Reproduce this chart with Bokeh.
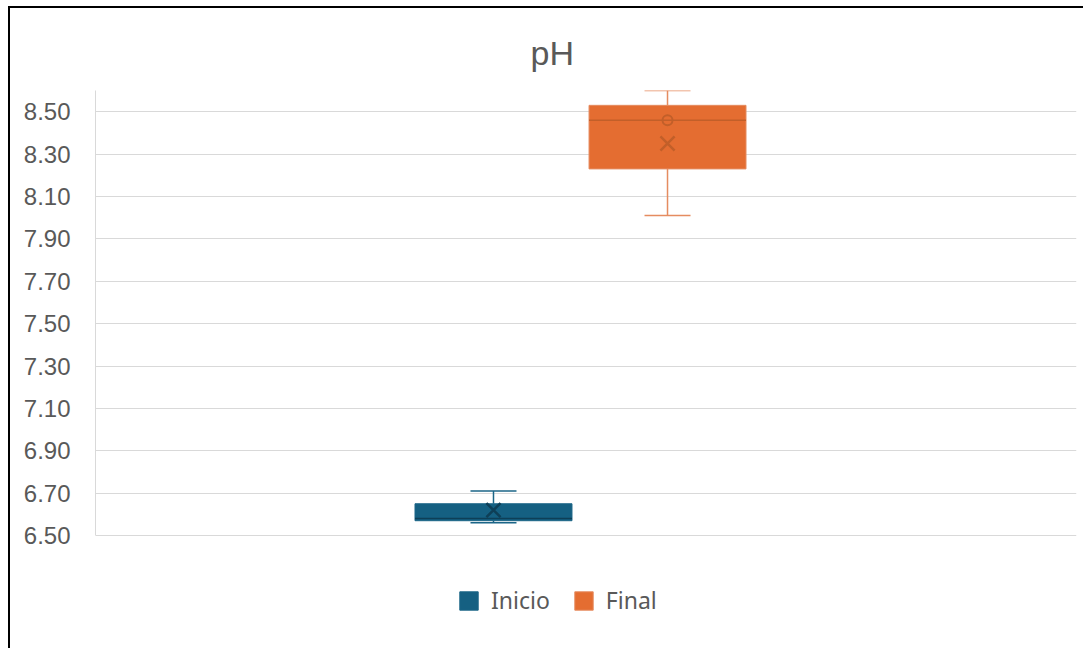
from bokeh.plotting import figure
from bokeh.models import (Range1d, FixedTicker, NumeralTickFormatter, Legend,
                          LegendItem, Title, ColumnDataSource)
from bokeh.embed import file_html
from bokeh.resources import INLINE

# pH summary per sampling stage
series = ["Inicio", "Final"]
whisker_low = [6.56, 8.01]
q1 = [6.57, 8.23]
median = [6.58, 8.46]
q3 = [6.65, 8.53]
whisker_high = [6.71, 8.60]
mean = [6.62, 8.35]
point_series = ["Final"]
point_values = [8.46]
y_ticks = [6.50, 6.70, 6.90, 7.10, 7.30, 7.50, 7.70, 7.90, 8.10, 8.30, 8.50]

fills = ["#156082", "#E46D31"]
edges = ["#1B6587", "#E58C60"]
dark = ["#0E3F57", "#C25F29"]

center = 1.0
offset = 0.0887
box_w = 0.16
xs = [center - offset, center + offset]

src = ColumnDataSource(dict(
    x=xs, q1=q1, q3=q3, med=median, lo=whisker_low, hi=whisker_high,
    mean=mean, fill=fills, edge=edges, dark=dark,
    x0=[x - box_w / 2 for x in xs], x1=[x + box_w / 2 for x in xs],
))

p = figure(width=1075, height=642, output_backend="svg", toolbar_location=None,
           x_range=Range1d(0.5056, 1.5056), y_range=Range1d(6.0, 8.6),
           min_border_left=85, min_border_right=9, min_border_top=82,
           min_border_bottom=9)
p.styles = {"border-left": "2px solid #000", "border-top": "2px solid #000",
            "margin-left": "8px", "margin-top": "6px"}
p.outline_line_color = None
p.background_fill_color = "white"
p.border_fill_color = "white"

title = Title(text="pH", align="left", offset=435, standoff=37,
              text_font="Liberation Sans", text_font_size="34px",
              text_color="#595959", text_font_style="normal")
p.add_layout(title, "above")

p.xaxis.visible = False
p.xgrid.visible = False
p.yaxis.ticker = FixedTicker(ticks=y_ticks)
p.yaxis.formatter = NumeralTickFormatter(format="0.00")
p.yaxis.bounds = (6.5, 8.6)
p.yaxis.axis_line_color = "#D9D9D9"
p.yaxis.major_tick_line_color = None
p.yaxis.minor_tick_line_color = None
p.yaxis.major_label_standoff = 19
p.yaxis.major_label_text_font = "Liberation Sans"
p.yaxis.major_label_text_font_size = "24px"
p.yaxis.major_label_text_color = "#595959"
p.ygrid.ticker = FixedTicker(ticks=y_ticks)
p.ygrid.grid_line_color = "#D9D9D9"
p.ygrid.grid_line_width = 1

# whiskers and caps
p.segment(x0="x", x1="x", y0="q3", y1="hi", line_color="edge", line_width=1.5, source=src)
p.segment(x0="x", x1="x", y0="lo", y1="q1", line_color="edge", line_width=1.5, source=src)
p.scatter(x="x", y="hi", marker="dash", size=46, line_color="edge", line_width=1.5, source=src)
p.scatter(x="x", y="lo", marker="dash", size=46, line_color="edge", line_width=1.5, source=src)

# boxes
boxes = []
for i, name in enumerate(series):
    r = p.quad(left=src.data["x0"][i], right=src.data["x1"][i],
               bottom=q1[i], top=q3[i], fill_color=fills[i],
               line_color=edges[i], line_width=1)
    boxes.append(r)

# medians, means and inner points
p.segment(x0="x0", x1="x1", y0="med", y1="med", line_color="dark", line_width=1.5, source=src)
p.scatter(x="x", y="mean", marker="x", size=20, line_color="dark", line_width=2.5, source=src)
px = [xs[series.index(s)] for s in point_series]
p.scatter(x=px, y=point_values, marker="circle", size=10, fill_color=None,
          line_color=dark[1], line_width=2)

legend = Legend(items=[LegendItem(label=s, renderers=[b]) for s, b in zip(series, boxes)],
                orientation="horizontal", location=(362, 25),
                glyph_width=23, glyph_height=23, label_standoff=11, spacing=22,
                padding=0, margin=0, border_line_color=None,
                background_fill_alpha=0,
                label_text_font="Noto Sans", label_text_font_size="23px",
                label_text_color="#595959")
p.add_layout(legend, "center")

open("out.html", "w").write(file_html(p, INLINE))
